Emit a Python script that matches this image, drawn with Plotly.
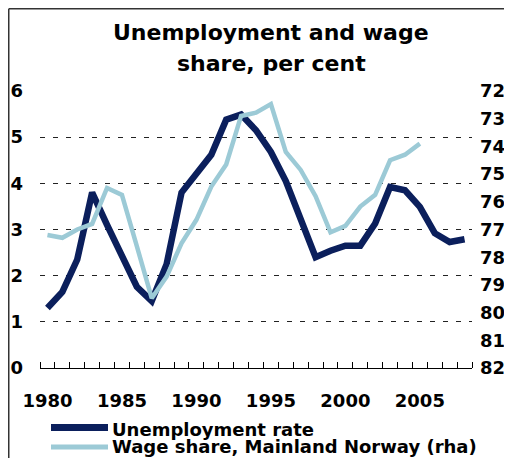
import plotly.graph_objects as go

years = list(range(1980, 2009))
unemployment = [1.3, 1.65, 2.35, 3.8, 3.1, 2.45, 1.76, 1.45, 2.25, 3.8, 4.22, 4.62, 5.38, 5.49, 5.15,
                4.68, 4.05, 3.22, 2.4, 2.54, 2.65, 2.65, 3.13, 3.92, 3.85, 3.49, 2.92, 2.73, 2.79]
wage_share = [77.2, 77.3, 77.0, 76.8, 75.5, 75.75, 77.6, 79.48, 78.7, 77.5, 76.65, 75.45, 74.65, 72.9,
              72.78, 72.47, 74.2, 74.85, 75.8, 77.1, 76.87, 76.17, 75.75, 74.5, 74.3, 73.9, None, None, None]

left_ticks = [0, 1, 2, 3, 4, 5, 6]
right_ticks = list(range(72, 83))
x_tick_years = [1980, 1985, 1990, 1995, 2000, 2005]

name_unemp = "Unemployment rate"
name_wage = "Wage share, Mainland Norway (rha)"
title_lines = ["Unemployment and wage", "share, per cent"]

DARK = "#0b1f5c"
LIGHT = "#9ccad6"
FONT = "DejaVu Sans"

# page has an 8px body margin; keep the whole figure inside the viewport (no scrollbars)
OFF = 8
W, H = 512 - 2 * OFF, 466 - 2 * OFF
L, T = 40 - OFF, 91 - OFF
R = W - (472 - OFF)
B = H - (368 - OFF)
pw, ph = W - L - R, H - T - B


def px_x(p):
    # p: page pixel x
    return (p - OFF - L) / pw


def px_y(p):
    # p: page pixel y
    return (H - B - (p - OFF)) / ph


fig = go.Figure()
fig.add_trace(go.Scatter(x=years, y=unemployment, name=name_unemp, mode="lines",
                         line=dict(color=DARK, width=6.5), yaxis="y", showlegend=False))
fig.add_trace(go.Scatter(x=years, y=wage_share, name=name_wage, mode="lines",
                         line=dict(color=LIGHT, width=4.5), yaxis="y2", showlegend=False))

tickfont = dict(family=FONT, size=18, color="black", weight="bold")

fig.update_layout(
    width=W, height=H,
    margin=dict(l=L, r=R, t=T, b=B, autoexpand=False),
    paper_bgcolor="white", plot_bgcolor="white",
    xaxis=dict(range=[1979.5, 2008.5], tickvals=x_tick_years, ticks="", showgrid=False,
               showline=True, linecolor="black", linewidth=1, zeroline=False,
               tickfont=tickfont, ticklabelstandoff=16, automargin=False,
               minor=dict(ticks="inside", ticklen=6, tickcolor="black", tick0=1979.5, dtick=1,
                          showgrid=False)),
    yaxis=dict(range=[0, 6], tickvals=left_ticks, showgrid=True, gridcolor="#222222",
               griddash="5px,8px", gridwidth=1, zeroline=False, showline=False,
               tickfont=tickfont, ticklabelstandoff=16, ticks="", automargin=False),
    yaxis2=dict(range=[82, 72], tickvals=right_ticks, overlaying="y", side="right",
                showgrid=False, zeroline=False, showline=False, tickfont=tickfont,
                ticklabelstandoff=7, ticks="", automargin=False),
    showlegend=False,
)

# frame (left and top edges of the chart box)
fig.add_shape(type="line", xref="paper", yref="paper", x0=px_x(8.75), x1=px_x(520),
              y0=px_y(8.75), y1=px_y(8.75), line=dict(color="#333333", width=1.5))
fig.add_shape(type="line", xref="paper", yref="paper", x0=px_x(8.75), x1=px_x(8.75),
              y0=px_y(8.75), y1=px_y(480), line=dict(color="#333333", width=1.5))

# title (two centred lines)
for line_text, cy in zip(title_lines, [32, 64]):
    fig.add_annotation(text=line_text, xref="paper", yref="paper", x=px_x(271), y=px_y(cy),
                       xanchor="center", yanchor="middle", showarrow=False,
                       font=dict(family=FONT, size=22, color="black", weight="bold"))

# manual legend
legend_items = [(name_unemp, DARK, 7, 427.5, 429), (name_wage, LIGHT, 5, 447, 446.5)]
for label, col, lw, ly, ty in legend_items:
    fig.add_shape(type="line", xref="paper", yref="paper", x0=px_x(51), x1=px_x(108),
                  y0=px_y(ly), y1=px_y(ly), line=dict(color=col, width=lw))
    fig.add_annotation(text=label, xref="paper", yref="paper", x=px_x(110), y=px_y(ty),
                       xanchor="left", yanchor="middle", showarrow=False,
                       font=dict(family=FONT, size=18, color="black", weight="bold"))

fig.write_html("out.html")
